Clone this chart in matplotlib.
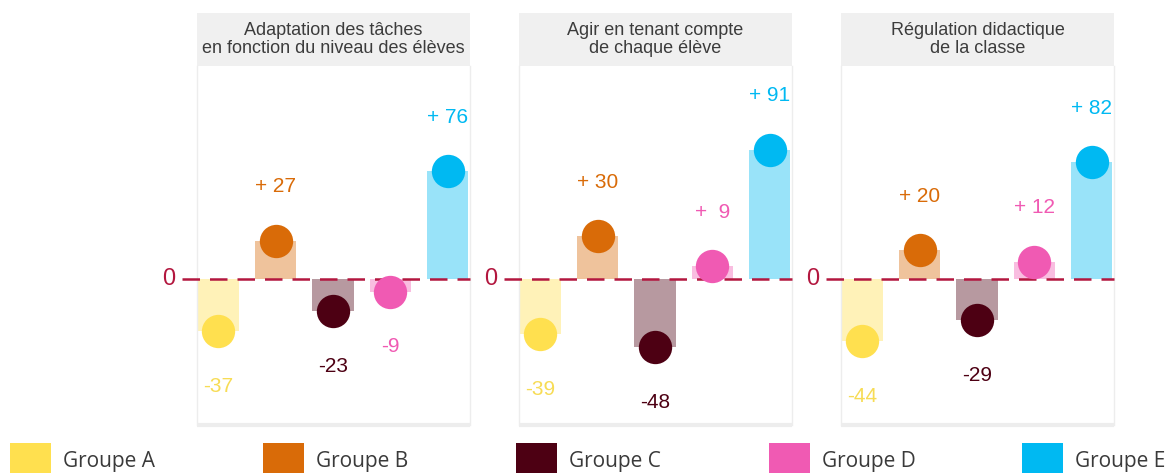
import matplotlib

matplotlib.use("Agg")
import matplotlib.pyplot as plt
from matplotlib.patches import Rectangle

# values
GROUPS = ["Groupe A", "Groupe B", "Groupe C", "Groupe D", "Groupe E"]
COLORS = ["#ffe04f", "#d96b08", "#4d0013", "#f05ab3", "#00b9f2"]
LABEL_COLORS = ["#f7dc55", "#d96b08", "#4d0013", "#f05ab3", "#00b9f2"]
TITLES = [
    "Adaptation des tâches\nen fonction du niveau des élèves",
    "Agir en tenant compte\nde chaque élève",
    "Régulation didactique\nde la classe",
]
ADAPTATION = [-37, 27, -23, -9, 76]
AGIR = [-39, 30, -48, 9, 91]
REGULATION = [-44, 20, -29, 12, 82]
PANELS = [ADAPTATION, AGIR, REGULATION]

ZERO_COLOR = "#b3173f"
W, H = 1168, 473

plt.rcParams["font.family"] = ["Liberation Sans", "DejaVu Sans"]
fig = plt.figure(figsize=(W / 100, H / 100), dpi=100)


def fx(px):
    return px / W


def fy(px):
    return 1 - px / H


panel_left = [197, 519, 841]
panel_w = 273
body_top, body_bot, head_top = 66, 425, 13

for left, title, vals in zip(panel_left, TITLES, PANELS):
    # grey header strip with the title
    hax = fig.add_axes([fx(left), fy(body_top), fx(panel_w), (body_top - head_top) / H])
    hax.set_facecolor("#f0f0f0")
    hax.set_xticks([])
    hax.set_yticks([])
    for s in hax.spines.values():
        s.set_visible(False)
    hax.text(0.5, 0.5, title, ha="center", va="center", fontsize=13,
             color="#3c3c3c", linespacing=1.12, transform=hax.transAxes)

    ax = fig.add_axes([fx(left), fy(body_bot), fx(panel_w), (body_bot - body_top) / H])
    ax.set_xlim(-0.37, 4.39)
    ax.set_ylim(-103, 150)
    ax.set_xticks([])
    ax.set_yticks([])
    for side, s in ax.spines.items():
        s.set_color("#ededed")
        s.set_linewidth(1)
    ax.spines["top"].set_visible(False)
    ax.spines["bottom"].set_linewidth(3)
    ax.spines["bottom"].set_capstyle("butt")

    xs = range(len(vals))
    ax.bar(xs, vals, width=0.72, color=COLORS, alpha=0.4, zorder=2)
    ax.axhline(0, xmin=-0.055, xmax=1, color=ZERO_COLOR, lw=1.8,
               dashes=(7, 4), clip_on=False, zorder=3)
    for x, v, c, lc in zip(xs, vals, COLORS, LABEL_COLORS):
        ax.plot(x, v, "o", ms=24, color=c, mec="none", zorder=4, clip_on=False)
        txt = f"+ {v:>2}" if v > 0 else f"{v}"
        ax.text(x, v + (38 if v > 0 else -39), txt, ha="center", va="center",
                fontsize=15, color=lc, zorder=5)
    ax.text(-0.105, 0, "0", transform=ax.get_yaxis_transform(), ha="center",
            va="center", fontsize=17, color=ZERO_COLOR)

# legend row along the bottom
for i, (g, c) in enumerate(zip(GROUPS, COLORS)):
    x0 = 10 + i * 253
    fig.add_artist(Rectangle((fx(x0), 0), fx(41), fy(443), transform=fig.transFigure,
                             facecolor=c, edgecolor="none"))
    fig.text(fx(x0 + 53), fy(461), g, ha="left", va="center", fontsize=15,
             color="#3a3a3a", family=["Open Sans", "DejaVu Sans"])

fig.savefig("out.png", dpi=100)
